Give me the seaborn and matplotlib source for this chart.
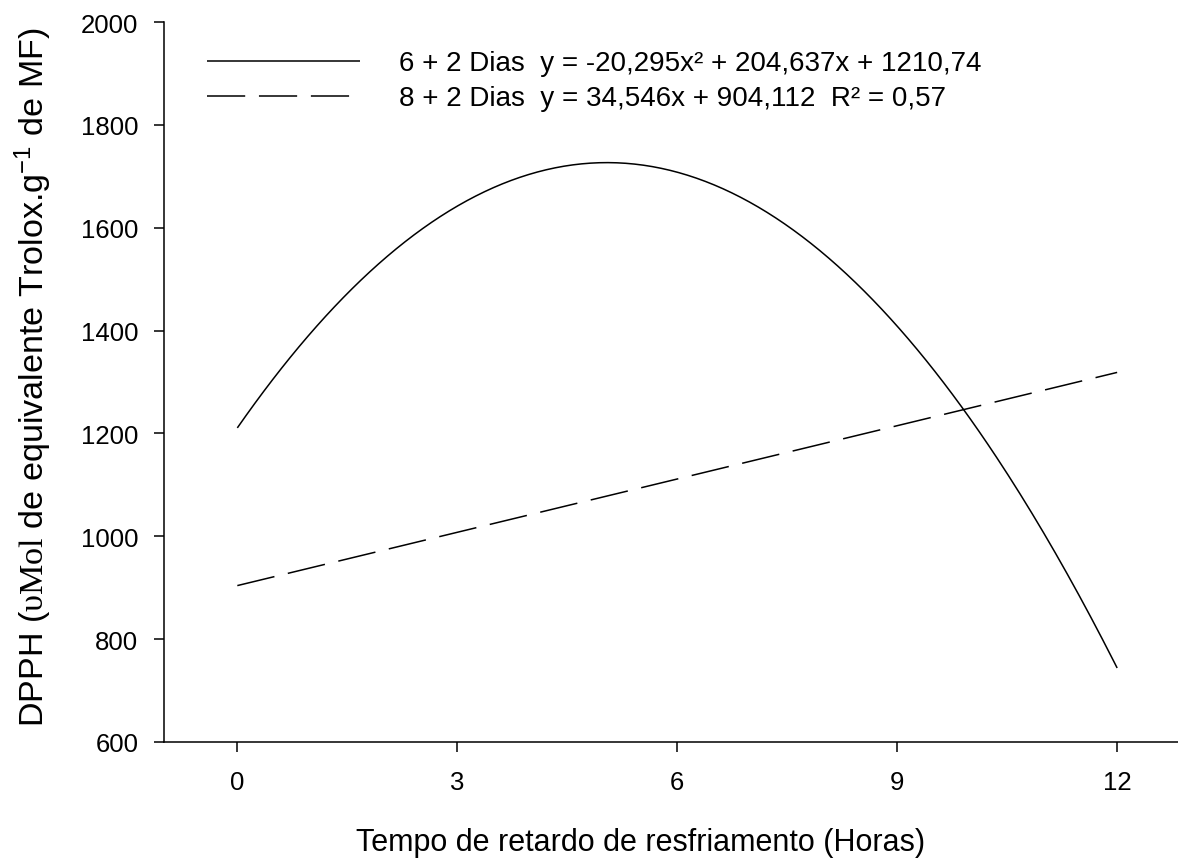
import numpy as np
import pandas as pd
import matplotlib
matplotlib.use("Agg")
import matplotlib.pyplot as plt
import seaborn as sns

# Regression fits for each storage treatment
series_names = ["6 + 2 Dias", "8 + 2 Dias"]
quad_coef = [-20.295, 204.637, 1210.74]   # y = a x^2 + b x + c
lin_coef = [34.546, 904.112]              # y = a x + b
legend_labels = [
    "6 + 2 Dias  y = -20,295x² + 204,637x + 1210,74",
    "8 + 2 Dias  y = 34,546x + 904,112  R² = 0,57",
]
x_range = [0, 12]
x_ticks = [0, 3, 6, 9, 12]
y_ticks = [600, 800, 1000, 1200, 1400, 1600, 1800, 2000]

sns.set_theme(style="ticks")
plt.rcParams["font.family"] = ["Liberation Sans", "DejaVu Sans"]
plt.rcParams["mathtext.fontset"] = "custom"
plt.rcParams["mathtext.rm"] = "Liberation Serif"
plt.rcParams["mathtext.sf"] = "Liberation Sans"
plt.rcParams["mathtext.it"] = "Liberation Serif:italic"
for key in ["text.color", "axes.labelcolor", "xtick.color", "ytick.color",
            "axes.edgecolor"]:
    plt.rcParams[key] = "black"

x = np.linspace(x_range[0], x_range[1], 300)
df = pd.concat([
    pd.DataFrame({"x": x, "y": np.polyval(quad_coef, x), "serie": legend_labels[0]}),
    pd.DataFrame({"x": x, "y": np.polyval(lin_coef, x), "serie": legend_labels[1]}),
])

fig = plt.figure(figsize=(11.78, 8.62), dpi=100)
ax = fig.add_axes([164 / 1178, 119 / 862, 1014 / 1178, 720 / 862])

lw = 1.1
sns.lineplot(data=df, x="x", y="y", hue="serie", style="serie",
             palette=["black", "black"], dashes=[(1, 0), (25, 9)],
             linewidth=lw, ax=ax, legend=True)

ax.set_xlim(-1.0, 12.83)
ax.set_ylim(600, 2000)
ax.set_xticks(x_ticks)
ax.set_yticks(y_ticks)
ax.tick_params(axis="both", direction="out", length=7.5, width=1.1,
               labelsize=18.5, colors="black")
ax.tick_params(axis="x", pad=13)
ax.tick_params(axis="y", pad=11)
for side in ["top", "right"]:
    ax.spines[side].set_visible(False)
for side in ["left", "bottom"]:
    ax.spines[side].set_linewidth(1.1)
    ax.spines[side].set_color("black")

ax.set_xlabel("Tempo de retardo de resfriamento (Horas)", fontsize=22)
ax.set_ylabel(r"DPPH ($\mathrm{\upsilon Mol}$ de equivalente Trolox.g$\mathsf{^{-1}}$ de MF)",
              fontsize=24.6)
ax.xaxis.set_label_coords(0.470, -0.139)
ax.yaxis.set_label_coords(-0.129, 0.508)
ax.xaxis.label.set_va("center")
ax.yaxis.label.set_va("center")

leg = ax.legend(loc="upper left", bbox_to_anchor=(0.018, 0.9955), frameon=False,
                fontsize=20, handlelength=5.5, handletextpad=1.42,
                labelspacing=0.33, title=None)
for line in leg.get_lines():
    line.set_linewidth(lw)

fig.savefig("out.png", dpi=100)
